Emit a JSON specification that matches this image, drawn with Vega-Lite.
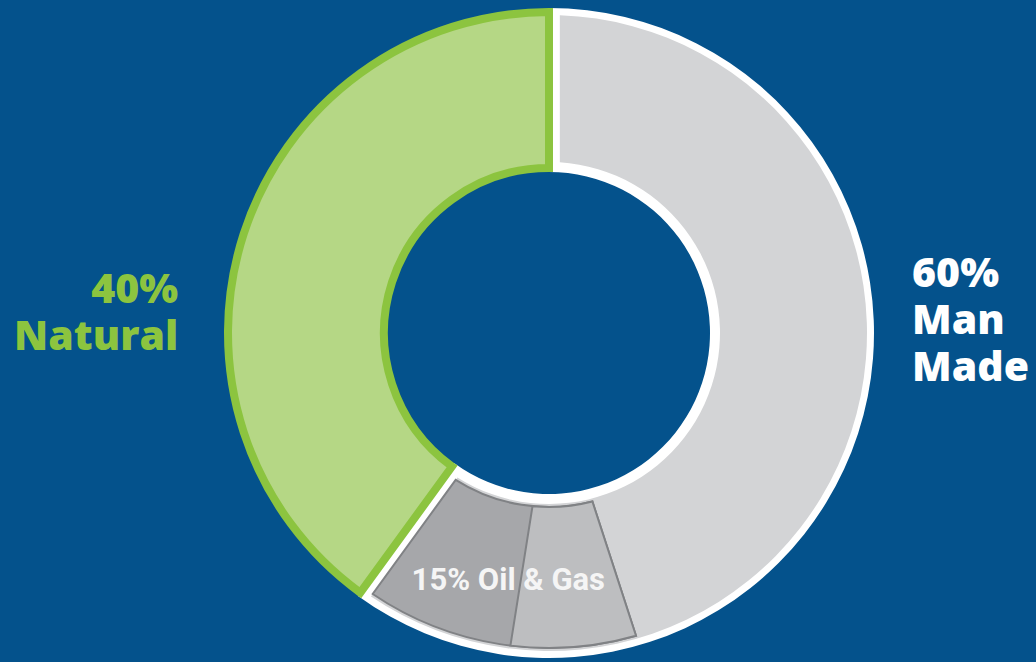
{
  "$schema": "https://vega.github.io/schema/vega-lite/v6.json",
  "width": 974,
  "height": 658,
  "autosize": {"type": "none"},
  "padding": {"left": 62, "top": 4, "right": 0, "bottom": 0},
  "background": "#04528c",
  "config": {"view": {"stroke": null}},
  "data": {
    "values": [
      {"segment": "Man Made", "group": "Man Made", "labelgroup": "Man Made", "label": "60%\nMan\nMade", "pct": 45, "ord": 1},
      {"segment": "Oil & Gas (1)", "group": "Man Made", "labelgroup": "Oil & Gas", "label": "15% Oil & Gas", "pct": 7.5, "ord": 2},
      {"segment": "Oil & Gas (2)", "group": "Man Made", "labelgroup": "Oil & Gas", "label": "15% Oil & Gas", "pct": 7.5, "ord": 3},
      {"segment": "Natural", "group": "Natural", "labelgroup": "Natural", "label": "40%\nNatural", "pct": 40, "ord": 4}
    ]
  },
  "transform": [
    {"stack": "pct", "groupby": [], "sort": [{"field": "ord", "order": "ascending"}], "as": ["t0", "t1"]},
    {"joinaggregate": [{"op": "min", "field": "t0", "as": "g0"}, {"op": "max", "field": "t1", "as": "g1"}], "groupby": ["group"]},
    {"joinaggregate": [{"op": "min", "field": "t0", "as": "l0"}, {"op": "max", "field": "t1", "as": "l1"}], "groupby": ["labelgroup"]}
  ],
  "layer": [
    {
      "transform": [{"filter": "datum.ord === 1"}],
      "mark": {"type": "arc", "fill": "#ffffff", "outerRadius": 325, "innerRadius": 161},
      "encoding": {
        "theta": {"field": "g0", "type": "quantitative", "stack": null, "scale": {"domain": [0, 100]}},
        "theta2": {"field": "g1"}
      }
    },
    {
      "transform": [{"filter": "datum.ord === 4"}],
      "mark": {"type": "arc", "fill": "#b5d785", "stroke": "#8cc43f", "strokeWidth": 8, "outerRadius": 321, "innerRadius": 165},
      "encoding": {
        "theta": {"field": "t0", "type": "quantitative", "stack": null, "scale": {"domain": [0, 100]}},
        "theta2": {"field": "t1"}
      }
    },
    {
      "transform": [{"filter": "datum.ord === 1"}],
      "mark": {"type": "arc", "fill": "#d3d4d6", "outerRadius": 318, "innerRadius": 171, "padAngle": 0.06},
      "encoding": {
        "theta": {"field": "g0", "type": "quantitative", "stack": null, "scale": {"domain": [0, 100]}},
        "theta2": {"field": "g1"}
      }
    },
    {
      "transform": [{"filter": "datum.ord === 2"}],
      "mark": {"type": "arc", "fill": "#a6a7aa", "stroke": "#808285", "strokeWidth": 2, "outerRadius": 315, "innerRadius": 174, "padAngle": 0.06},
      "encoding": {
        "theta": {"field": "l0", "type": "quantitative", "stack": null, "scale": {"domain": [0, 100]}},
        "theta2": {"field": "l1"}
      }
    },
    {
      "transform": [{"filter": "datum.ord === 2"}],
      "mark": {"type": "arc", "fill": "#bdbec0", "stroke": "#808285", "strokeWidth": 2, "outerRadius": 315, "innerRadius": 174, "padAngle": 0.06},
      "encoding": {
        "theta": {"field": "t0", "type": "quantitative", "stack": null, "scale": {"domain": [0, 100]}},
        "theta2": {"field": "t1"}
      }
    },
    {
      "transform": [{"aggregate": [{"op": "sum", "field": "pct", "as": "share"}, {"op": "min", "field": "ord", "as": "rank"}], "groupby": ["labelgroup", "label"]}],
      "mark": {"type": "text", "radius": 372, "thetaOffset": -0.234, "align": "right", "baseline": "alphabetic", "font": "Open Sans", "fontWeight": 800, "fontSize": 41, "lineHeight": 47, "lineBreak": "\n", "fill": "#8cc43f"},
      "encoding": {
        "theta": {"field": "share", "type": "quantitative", "stack": true, "scale": {"domain": [0, 100]}},
        "order": {"field": "rank"},
        "text": {"condition": {"test": "datum.labelgroup === 'Natural'", "field": "label"}, "value": ""}
      }
    },
    {
      "transform": [{"aggregate": [{"op": "sum", "field": "pct", "as": "share"}, {"op": "min", "field": "ord", "as": "rank"}], "groupby": ["labelgroup", "label"]}],
      "mark": {"type": "text", "radius": 366, "thetaOffset": 0.031, "align": "left", "baseline": "alphabetic", "font": "Open Sans", "fontWeight": 800, "fontSize": 41, "lineHeight": 47, "lineBreak": "\n", "fill": "#ffffff"},
      "encoding": {
        "theta": {"field": "share", "type": "quantitative", "stack": true, "scale": {"domain": [0, 100]}},
        "order": {"field": "rank"},
        "text": {"condition": {"test": "datum.labelgroup === 'Man Made'", "field": "label"}, "value": ""}
      }
    },
    {
      "transform": [{"aggregate": [{"op": "sum", "field": "pct", "as": "share"}, {"op": "min", "field": "ord", "as": "rank"}], "groupby": ["labelgroup", "label"]}],
      "mark": {"type": "text", "radius": 260, "align": "center", "baseline": "alphabetic", "font": "Roboto", "fontWeight": "bold", "fontSize": 31, "fill": "#f5f5f5"},
      "encoding": {
        "theta": {"field": "share", "type": "quantitative", "stack": true, "scale": {"domain": [0, 100]}},
        "order": {"field": "rank"},
        "text": {"condition": {"test": "datum.labelgroup === 'Oil & Gas'", "field": "label"}, "value": ""}
      }
    }
  ]
}
